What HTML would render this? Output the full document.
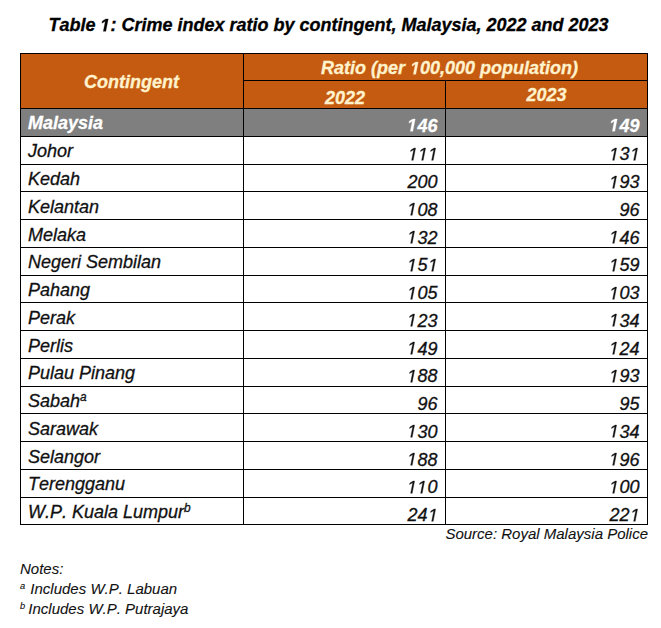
<!DOCTYPE html>
<html><head><meta charset="utf-8"><style>
html,body{margin:0;padding:0;background:#fff;width:661px;height:628px;overflow:hidden;position:relative}
body{font-family:"Liberation Sans",sans-serif;font-style:italic;color:#111;font-kerning:none}
.a{-webkit-text-stroke:0.3px currentColor}
.a{position:absolute;white-space:nowrap}
.hl{position:absolute;height:1px;background:#000}
.vl{position:absolute;width:1px;background:#000}
.bg{position:absolute}
.t{font-size:18px;line-height:20px;height:20px}
.r{text-align:right}
.c{text-align:center}
sup{font-size:66%;vertical-align:top;position:relative;top:-4px}
.one{width:0.5562em;height:0.688em;vertical-align:baseline;overflow:visible;fill:currentColor;stroke:currentColor;stroke-width:34}
.s{-webkit-text-stroke:0.1px currentColor}
.n sup{top:-2px;margin-right:1px;font-size:62%}
</style></head><body>

<div class="bg" style="left:20px;top:53.0px;width:627px;height:55.5px;background:#C55A11"></div>
<div class="bg" style="left:20px;top:108.5px;width:627px;height:27.75px;background:#7F7F7F"></div>
<div class="a" style="left:0;width:657px;top:14px;text-align:center;font-weight:bold;font-size:18px;line-height:22px;color:#000">Table <svg class="one" viewBox="0 0 1139 1409"><path transform="matrix(1 0 0 -1 0 1409)" d="M380 0L604 1152L223 938L270 1180L666 1409L936 1409L661 0Z"/></svg>: Crime index ratio by contingent, Malaysia, 2022 and 2023</div>
<div class="a t c" style="left:20px;width:223px;top:71.5px;font-weight:bold;color:#FFF2CC">Contingent</div>
<div class="a t c" style="left:243px;width:404px;top:58.0px;text-indent:9px;font-weight:bold;color:#FFF2CC">Ratio (per <svg class="one" viewBox="0 0 1139 1409"><path transform="matrix(1 0 0 -1 0 1409)" d="M380 0L604 1152L223 938L270 1180L666 1409L936 1409L661 0Z"/></svg>00,000 population)</div>
<div class="a t c" style="left:243px;width:202px;top:87.75px;text-indent:2px;font-weight:bold;color:#FFF2CC">2022</div>
<div class="a t c" style="left:445px;width:202px;top:85.25px;text-indent:1px;font-weight:bold;color:#FFF2CC">2023</div>
<div class="a t" style="left:28px;top:112.5px;font-weight:bold;color:#fff">Malaysia</div>
<div class="a t r" style="left:243px;width:194.5px;top:115.5px;font-weight:bold;color:#fff"><svg class="one" viewBox="0 0 1139 1409"><path transform="matrix(1 0 0 -1 0 1409)" d="M380 0L604 1152L223 938L270 1180L666 1409L936 1409L661 0Z"/></svg>46</div>
<div class="a t r" style="left:445px;width:194.5px;top:115.5px;font-weight:bold;color:#fff"><svg class="one" viewBox="0 0 1139 1409"><path transform="matrix(1 0 0 -1 0 1409)" d="M380 0L604 1152L223 938L270 1180L666 1409L936 1409L661 0Z"/></svg>49</div>
<div class="a t" style="left:28px;top:141.25px">Johor</div>
<div class="a t r" style="left:243px;width:194.5px;top:144.25px"><svg class="one" viewBox="0 0 1139 1409"><path transform="matrix(1 0 0 -1 0 1409)" d="M412 0L650 1223L289 1000L324 1180L701 1409L867 1409L593 0Z"/></svg><svg class="one" viewBox="0 0 1139 1409"><path transform="matrix(1 0 0 -1 0 1409)" d="M412 0L650 1223L289 1000L324 1180L701 1409L867 1409L593 0Z"/></svg><svg class="one" viewBox="0 0 1139 1409"><path transform="matrix(1 0 0 -1 0 1409)" d="M412 0L650 1223L289 1000L324 1180L701 1409L867 1409L593 0Z"/></svg></div>
<div class="a t r" style="left:445px;width:194.5px;top:144.25px"><svg class="one" viewBox="0 0 1139 1409"><path transform="matrix(1 0 0 -1 0 1409)" d="M412 0L650 1223L289 1000L324 1180L701 1409L867 1409L593 0Z"/></svg>3<svg class="one" viewBox="0 0 1139 1409"><path transform="matrix(1 0 0 -1 0 1409)" d="M412 0L650 1223L289 1000L324 1180L701 1409L867 1409L593 0Z"/></svg></div>
<div class="a t" style="left:28px;top:169.0px">Kedah</div>
<div class="a t r" style="left:243px;width:194.5px;top:172.0px">200</div>
<div class="a t r" style="left:445px;width:194.5px;top:172.0px"><svg class="one" viewBox="0 0 1139 1409"><path transform="matrix(1 0 0 -1 0 1409)" d="M412 0L650 1223L289 1000L324 1180L701 1409L867 1409L593 0Z"/></svg>93</div>
<div class="a t" style="left:28px;top:196.75px">Kelantan</div>
<div class="a t r" style="left:243px;width:194.5px;top:199.75px"><svg class="one" viewBox="0 0 1139 1409"><path transform="matrix(1 0 0 -1 0 1409)" d="M412 0L650 1223L289 1000L324 1180L701 1409L867 1409L593 0Z"/></svg>08</div>
<div class="a t r" style="left:445px;width:194.5px;top:199.75px">96</div>
<div class="a t" style="left:28px;top:224.5px">Melaka</div>
<div class="a t r" style="left:243px;width:194.5px;top:227.5px"><svg class="one" viewBox="0 0 1139 1409"><path transform="matrix(1 0 0 -1 0 1409)" d="M412 0L650 1223L289 1000L324 1180L701 1409L867 1409L593 0Z"/></svg>32</div>
<div class="a t r" style="left:445px;width:194.5px;top:227.5px"><svg class="one" viewBox="0 0 1139 1409"><path transform="matrix(1 0 0 -1 0 1409)" d="M412 0L650 1223L289 1000L324 1180L701 1409L867 1409L593 0Z"/></svg>46</div>
<div class="a t" style="left:28px;top:252.25px">Negeri Sembilan</div>
<div class="a t r" style="left:243px;width:194.5px;top:255.25px"><svg class="one" viewBox="0 0 1139 1409"><path transform="matrix(1 0 0 -1 0 1409)" d="M412 0L650 1223L289 1000L324 1180L701 1409L867 1409L593 0Z"/></svg>5<svg class="one" viewBox="0 0 1139 1409"><path transform="matrix(1 0 0 -1 0 1409)" d="M412 0L650 1223L289 1000L324 1180L701 1409L867 1409L593 0Z"/></svg></div>
<div class="a t r" style="left:445px;width:194.5px;top:255.25px"><svg class="one" viewBox="0 0 1139 1409"><path transform="matrix(1 0 0 -1 0 1409)" d="M412 0L650 1223L289 1000L324 1180L701 1409L867 1409L593 0Z"/></svg>59</div>
<div class="a t" style="left:28px;top:280.0px">Pahang</div>
<div class="a t r" style="left:243px;width:194.5px;top:283.0px"><svg class="one" viewBox="0 0 1139 1409"><path transform="matrix(1 0 0 -1 0 1409)" d="M412 0L650 1223L289 1000L324 1180L701 1409L867 1409L593 0Z"/></svg>05</div>
<div class="a t r" style="left:445px;width:194.5px;top:283.0px"><svg class="one" viewBox="0 0 1139 1409"><path transform="matrix(1 0 0 -1 0 1409)" d="M412 0L650 1223L289 1000L324 1180L701 1409L867 1409L593 0Z"/></svg>03</div>
<div class="a t" style="left:28px;top:307.75px">Perak</div>
<div class="a t r" style="left:243px;width:194.5px;top:310.75px"><svg class="one" viewBox="0 0 1139 1409"><path transform="matrix(1 0 0 -1 0 1409)" d="M412 0L650 1223L289 1000L324 1180L701 1409L867 1409L593 0Z"/></svg>23</div>
<div class="a t r" style="left:445px;width:194.5px;top:310.75px"><svg class="one" viewBox="0 0 1139 1409"><path transform="matrix(1 0 0 -1 0 1409)" d="M412 0L650 1223L289 1000L324 1180L701 1409L867 1409L593 0Z"/></svg>34</div>
<div class="a t" style="left:28px;top:335.5px">Perlis</div>
<div class="a t r" style="left:243px;width:194.5px;top:338.5px"><svg class="one" viewBox="0 0 1139 1409"><path transform="matrix(1 0 0 -1 0 1409)" d="M412 0L650 1223L289 1000L324 1180L701 1409L867 1409L593 0Z"/></svg>49</div>
<div class="a t r" style="left:445px;width:194.5px;top:338.5px"><svg class="one" viewBox="0 0 1139 1409"><path transform="matrix(1 0 0 -1 0 1409)" d="M412 0L650 1223L289 1000L324 1180L701 1409L867 1409L593 0Z"/></svg>24</div>
<div class="a t" style="left:28px;top:363.25px">Pulau Pinang</div>
<div class="a t r" style="left:243px;width:194.5px;top:366.25px"><svg class="one" viewBox="0 0 1139 1409"><path transform="matrix(1 0 0 -1 0 1409)" d="M412 0L650 1223L289 1000L324 1180L701 1409L867 1409L593 0Z"/></svg>88</div>
<div class="a t r" style="left:445px;width:194.5px;top:366.25px"><svg class="one" viewBox="0 0 1139 1409"><path transform="matrix(1 0 0 -1 0 1409)" d="M412 0L650 1223L289 1000L324 1180L701 1409L867 1409L593 0Z"/></svg>93</div>
<div class="a t" style="left:28px;top:391.0px">Sabah<sup>a</sup></div>
<div class="a t r" style="left:243px;width:194.5px;top:394.0px">96</div>
<div class="a t r" style="left:445px;width:194.5px;top:394.0px">95</div>
<div class="a t" style="left:28px;top:418.75px">Sarawak</div>
<div class="a t r" style="left:243px;width:194.5px;top:421.75px"><svg class="one" viewBox="0 0 1139 1409"><path transform="matrix(1 0 0 -1 0 1409)" d="M412 0L650 1223L289 1000L324 1180L701 1409L867 1409L593 0Z"/></svg>30</div>
<div class="a t r" style="left:445px;width:194.5px;top:421.75px"><svg class="one" viewBox="0 0 1139 1409"><path transform="matrix(1 0 0 -1 0 1409)" d="M412 0L650 1223L289 1000L324 1180L701 1409L867 1409L593 0Z"/></svg>34</div>
<div class="a t" style="left:28px;top:446.5px">Selangor</div>
<div class="a t r" style="left:243px;width:194.5px;top:449.5px"><svg class="one" viewBox="0 0 1139 1409"><path transform="matrix(1 0 0 -1 0 1409)" d="M412 0L650 1223L289 1000L324 1180L701 1409L867 1409L593 0Z"/></svg>88</div>
<div class="a t r" style="left:445px;width:194.5px;top:449.5px"><svg class="one" viewBox="0 0 1139 1409"><path transform="matrix(1 0 0 -1 0 1409)" d="M412 0L650 1223L289 1000L324 1180L701 1409L867 1409L593 0Z"/></svg>96</div>
<div class="a t" style="left:28px;top:474.25px">Terengganu</div>
<div class="a t r" style="left:243px;width:194.5px;top:477.25px"><svg class="one" viewBox="0 0 1139 1409"><path transform="matrix(1 0 0 -1 0 1409)" d="M412 0L650 1223L289 1000L324 1180L701 1409L867 1409L593 0Z"/></svg><svg class="one" viewBox="0 0 1139 1409"><path transform="matrix(1 0 0 -1 0 1409)" d="M412 0L650 1223L289 1000L324 1180L701 1409L867 1409L593 0Z"/></svg>0</div>
<div class="a t r" style="left:445px;width:194.5px;top:477.25px"><svg class="one" viewBox="0 0 1139 1409"><path transform="matrix(1 0 0 -1 0 1409)" d="M412 0L650 1223L289 1000L324 1180L701 1409L867 1409L593 0Z"/></svg>00</div>
<div class="a t" style="left:28px;top:502.0px">W.P. Kuala Lumpur<sup>b</sup></div>
<div class="a t r" style="left:243px;width:194.5px;top:505.0px">24<svg class="one" viewBox="0 0 1139 1409"><path transform="matrix(1 0 0 -1 0 1409)" d="M412 0L650 1223L289 1000L324 1180L701 1409L867 1409L593 0Z"/></svg></div>
<div class="a t r" style="left:445px;width:194.5px;top:505.0px">22<svg class="one" viewBox="0 0 1139 1409"><path transform="matrix(1 0 0 -1 0 1409)" d="M412 0L650 1223L289 1000L324 1180L701 1409L867 1409L593 0Z"/></svg></div>
<div class="hl" style="left:20px;top:52.5px;width:628px"></div>
<div class="hl" style="left:243px;top:80.25px;width:405px"></div>
<div class="hl" style="left:20px;top:108.0px;width:628px"></div>
<div class="hl" style="left:20px;top:135.75px;width:628px"></div>
<div class="hl" style="left:20px;top:163.5px;width:628px"></div>
<div class="hl" style="left:20px;top:191.25px;width:628px"></div>
<div class="hl" style="left:20px;top:219.0px;width:628px"></div>
<div class="hl" style="left:20px;top:246.75px;width:628px"></div>
<div class="hl" style="left:20px;top:274.5px;width:628px"></div>
<div class="hl" style="left:20px;top:302.25px;width:628px"></div>
<div class="hl" style="left:20px;top:330.0px;width:628px"></div>
<div class="hl" style="left:20px;top:357.75px;width:628px"></div>
<div class="hl" style="left:20px;top:385.5px;width:628px"></div>
<div class="hl" style="left:20px;top:413.25px;width:628px"></div>
<div class="hl" style="left:20px;top:441.0px;width:628px"></div>
<div class="hl" style="left:20px;top:468.75px;width:628px"></div>
<div class="hl" style="left:20px;top:496.5px;width:628px"></div>
<div class="hl" style="left:20px;top:524.25px;width:628px"></div>
<div class="vl" style="left:20px;top:53.0px;height:472.25px"></div>
<div class="vl" style="left:243px;top:53.0px;height:472.25px"></div>
<div class="vl" style="left:445px;top:80.75px;height:444.0px"></div>
<div class="vl" style="left:647px;top:53.0px;height:472.25px"></div>
<div class="a r s" style="left:0;width:648px;top:525px;font-size:15px;line-height:17px">Source: Royal Malaysia Police</div>
<div class="a s" style="left:20px;top:560px;font-size:15px;line-height:17px">Notes:</div>
<div class="a n s" style="left:20px;top:580px;font-size:15px;line-height:17px"><sup>a</sup> Includes W.P. Labuan</div>
<div class="a n s" style="left:20px;top:600px;font-size:15px;line-height:17px"><sup style="margin-right:-1px">b</sup> Includes W.P. Putrajaya</div>
</body></html>
